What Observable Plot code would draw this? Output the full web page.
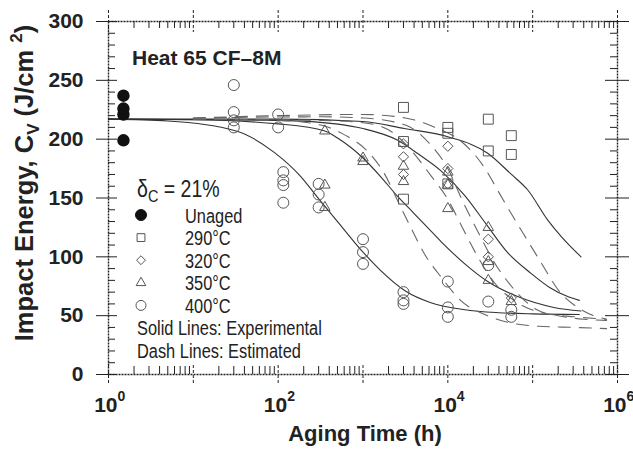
<!DOCTYPE html>
<html><head><meta charset="utf-8">
<script src="https://cdn.jsdelivr.net/npm/d3@7"></script>
<script src="https://cdn.jsdelivr.net/npm/@observablehq/plot@0.6"></script>
<style>body{margin:0;background:#fff}</style>
</head><body><div id="chart"></div>
<script>
// ---------- data ----------
const yTicks = [0, 50, 100, 150, 200, 250, 300];
const yMinor = [10,20,30,40,60,70,80,90,110,120,130,140,160,170,180,190,210,220,230,240,260,270,280,290];
const xDecades = [1, 10, 100, 1000, 10000, 100000, 1000000];
const xLabelDecades = [1, 100, 10000, 1000000];
const xLabelExps = ["0", "2", "4", "6"];
const xMinor = [2,3,4,5,6,7,8,9].flatMap(m => [1,10,100,1000,10000,100000].map(d => m * d));

const unagedHours = [1.5, 1.5, 1.5, 1.5];
const unagedCv = [237, 226, 221, 199];
const hours290 = [3000, 3000, 3000, 10000, 10000, 10000, 30000, 30000, 56000, 56000];
const cv290 = [227, 198, 149, 210, 205, 162, 217, 190, 203, 187];
const hours320 = [3000, 3000, 3000, 10000, 10000, 10000, 30000, 30000, 56000];
const cv320 = [196, 185, 170, 194, 175, 162, 115, 100, 65];
const hours350 = [355, 355, 355, 1000, 1000, 3000, 3000, 10000, 10000, 10000, 30000, 30000, 30000, 56000];
const cv350 = [207, 161, 142, 184, 181, 177, 164, 172, 161, 141, 125, 96, 80, 62];
const hours400 = [30, 30, 30, 30, 100, 100, 115, 115, 115, 115, 300, 300, 300, 1000, 1000, 1000, 3000, 3000, 3000, 10000, 10000, 10000, 30000, 30000, 56000, 56000];
const cv400 = [246, 223, 216, 210, 221, 210, 172, 165, 161, 146, 162, 153, 142, 115, 104, 94, 70, 63, 60, 79, 57, 49, 93, 62, 55, 49];

// solid lines: experimental
const solid400Hours = [1, 5, 32, 89, 186, 288, 501, 1000, 1585, 3162, 6310, 15849, 39811, 100000, 354813];
const solid400Cv = [217, 215.5, 207, 189, 168, 151, 130, 104, 89, 71, 61, 55, 52.5, 51.5, 51];
const solid350Hours = [1, 10, 100, 355, 501, 1000, 1622, 2512, 3981, 5754, 8318, 15849, 29512, 67608, 177828, 371535];
const solid350Cv = [217, 216.5, 213, 207, 201, 184, 168, 152, 137, 125, 113, 94, 79, 66, 57, 54];
const solid320Hours = [1, 100, 479, 1000, 2570, 4365, 8318, 15849, 28184, 50119, 95499, 158489, 263027, 354813];
const solid320Cv = [217, 216, 213, 209, 199, 188, 173, 152, 128, 104, 86, 74, 66, 63];
const solid290Hours = [1, 100, 1000, 3090, 10000, 29512, 56234, 87096, 151356, 218776, 371535];
const solid290Cv = [217, 217, 215, 209, 202, 188, 170, 157, 131, 117, 100];

// dash lines: estimated
const dash290Hours = [10, 100, 1000, 3162, 7586, 14454, 26915, 39811, 58884, 85114, 125893, 199526, 398107, 741310];
const dash290Cv = [218, 220, 221, 218, 209, 198, 176, 155, 134, 115, 95, 72, 54, 47];
const dash320Hours = [10, 316, 1000, 3162, 6310, 10000, 14791, 22387, 35481, 56234, 112202, 199526, 398107, 741310];
const dash320Cv = [218, 219, 218, 212, 195, 175, 148, 122, 95, 75, 55, 50, 47, 46];
const dash350Hours = [10, 316, 1000, 1995, 3548, 6310, 9772, 14125, 21380, 35481, 63096, 120226, 316228, 741310];
const dash350Cv = [217, 216, 214, 208, 192, 169, 150, 128, 103, 78, 62, 53, 49, 47];
const dash400Hours = [10, 100, 316, 631, 1122, 1778, 2630, 3715, 5248, 8511, 14125, 29512, 63096, 117490, 316228, 741310];
const dash400Cv = [217, 216, 212, 203, 190, 171, 146, 124, 103, 82, 63, 50, 43, 41, 40, 39];

const legendLabels = ["Unaged", "290°C", "320°C", "350°C", "400°C"];

// ---------- build ----------
const pts = (h, c) => h.map((t, i) => ({t, c: c[i]}));
const W = 633, H = 449, ML = 108, MR = 16, MT = 21, MB = 75;
const PW = W - ML - MR, PH = H - MT - MB;
const ink = "#222";
const symStroke = "#555";

const lineOpts = {x: "t", y: "c", curve: "monotone-x", stroke: "#333", strokeWidth: 1.1};
const dashOpts = {x: "t", y: "c", curve: "monotone-x", stroke: "#666", strokeWidth: 1.1, strokeDasharray: "12,9"};

const plot = Plot.plot({
  width: W, height: H,
  marginLeft: ML, marginRight: MR, marginTop: MT, marginBottom: MB,
  x: {type: "log", domain: [1, 1e6], axis: null},
  y: {domain: [0, 300], axis: null},
  style: {background: "white", fontFamily: "'Liberation Sans', Arial, sans-serif"},
  marks: [
    // curves
    Plot.line(pts(solid400Hours, solid400Cv), lineOpts),
    Plot.line(pts(solid350Hours, solid350Cv), lineOpts),
    Plot.line(pts(solid320Hours, solid320Cv), lineOpts),
    Plot.line(pts(solid290Hours, solid290Cv), lineOpts),
    Plot.line(pts(dash290Hours, dash290Cv), dashOpts),
    Plot.line(pts(dash320Hours, dash320Cv), dashOpts),
    Plot.line(pts(dash350Hours, dash350Cv), dashOpts),
    Plot.line(pts(dash400Hours, dash400Cv), dashOpts),
    // points
    Plot.dot(pts(hours290, cv290), {x: "t", y: "c", symbol: "square2", r: 6.3, stroke: symStroke, strokeWidth: 1}),
    Plot.dot(pts(hours320, cv320), {x: "t", y: "c", symbol: "diamond2", r: 4.6, stroke: symStroke, strokeWidth: 1}),
    Plot.dot(pts(hours350, cv350), {x: "t", y: "c", symbol: "triangle2", r: 5, stroke: symStroke, strokeWidth: 1}),
    Plot.dot(pts(hours400, cv400), {x: "t", y: "c", symbol: "circle", r: 5.5, stroke: symStroke, strokeWidth: 1}),
    Plot.dot(pts(unagedHours, unagedCv), {x: "t", y: "c", symbol: "circle", r: 5.5, fill: "#111", stroke: "#111"}),
    // frame (dotted look)
    Plot.frame({stroke: ink, strokeWidth: 1.4, strokeDasharray: "2,1"}),
    // y ticks left: minor inward, major crossing
    Plot.tickY(yMinor, {y: d => d, stroke: ink, insetRight: PW - 7}),
    Plot.tickY(yTicks, {y: d => d, stroke: ink, insetLeft: -12, insetRight: PW - 9}),
    // y ticks right
    Plot.tickY(yMinor, {y: d => d, stroke: ink, insetLeft: PW - 7}),
    Plot.tickY(yTicks, {y: d => d, stroke: ink, insetLeft: PW - 12, insetRight: -12}),
    // x ticks bottom/top: minor inward, decades dashed crossing
    Plot.tickX(xMinor, {x: d => d, stroke: ink, insetTop: PH - 8}),
    Plot.tickX(xMinor, {x: d => d, stroke: ink, insetBottom: PH - 7}),
    Plot.tickX(xDecades, {x: d => d, stroke: ink, strokeDasharray: "3,2", insetTop: PH - 9, insetBottom: -11}),
    Plot.tickX(xDecades, {x: d => d, stroke: ink, strokeDasharray: "3,2", insetBottom: PH - 11, insetTop: -11}),
    // tick labels
    Plot.axisY(yTicks, {anchor: "left", tickSize: 0, tickPadding: 25, fontSize: 21, fontWeight: "bold", fill: ink, label: null}),
    Plot.text(xLabelDecades, {x: d => d, frameAnchor: "bottom", dy: 37, dx: 9, textAnchor: "end", text: d => "10", fontSize: 21, fontWeight: "bold", fill: ink}),
    Plot.text(xLabelDecades, {x: d => d, frameAnchor: "bottom", dy: 26, dx: 9, textAnchor: "start", text: (d, i) => xLabelExps[i], fontSize: 14, fontWeight: "bold", fill: ink})
  ]
});

const svg = d3.select(plot);
// axis titles
svg.append("text").attr("x", 365).attr("y", 441).attr("text-anchor", "middle")
  .attr("font-size", 22).attr("font-weight", "bold").attr("fill", ink).text("Aging Time (h)");
const yt = svg.append("text").attr("transform", "translate(33,183) rotate(-90)").attr("text-anchor", "middle")
  .attr("font-size", 25.5).attr("font-weight", "bold").attr("fill", ink);
yt.append("tspan").text("Impact Energy, C");
yt.append("tspan").attr("font-size", 17).attr("dy", 6).text("V");
yt.append("tspan").attr("dy", -6).text(" (J/cm ");
yt.append("tspan").attr("font-size", 17).attr("dy", -11).text("2");
yt.append("tspan").attr("dy", 11).text(")");

// in-plot annotation
svg.append("text").attr("x", 132).attr("y", 65).attr("text-anchor", "start").attr("font-size", 21).attr("font-weight", "bold").attr("fill", ink)
  .text("Heat 65 CF–8M");

// condensed legend text (the original uses a narrow face)
const narrowText = (x, y, size, sx = 0.78) => svg.append("text")
  .attr("transform", `translate(${x},${y}) scale(${sx},1)`)
  .attr("text-anchor", "start").attr("font-size", size).attr("fill", ink);

const dl = narrowText(137, 197, 23, 0.85);
dl.append("tspan").text("δ");
dl.append("tspan").attr("font-size", 17).attr("dy", 5).text("C");
dl.append("tspan").attr("dy", -5).text(" = 21%");

const symbols = [
  {sym: d3.symbolCircle, r: 5.5, fill: "#111"},
  {sym: d3.symbolSquare2, r: 5, fill: "none"},
  {sym: d3.symbolDiamond2, r: 4, fill: "none"},
  {sym: d3.symbolTriangle2, r: 4.6, fill: "none"},
  {sym: d3.symbolCircle, r: 5, fill: "none"}
];
legendLabels.forEach((lab, i) => {
  const cy = 215 + i * 22.6;
  const s = symbols[i];
  svg.append("path").attr("transform", `translate(141,${cy})`)
    .attr("d", d3.symbol(s.sym, Math.PI * s.r * s.r)())
    .attr("fill", s.fill).attr("stroke", i === 0 ? "#111" : symStroke).attr("stroke-width", 1);
  narrowText(185, cy + 7.5, 21).text(lab);
});
narrowText(137, 335, 21).text("Solid Lines: Experimental");
narrowText(137, 358, 21).text("Dash Lines: Estimated");

document.getElementById("chart").appendChild(plot);
</script>
</body></html>
